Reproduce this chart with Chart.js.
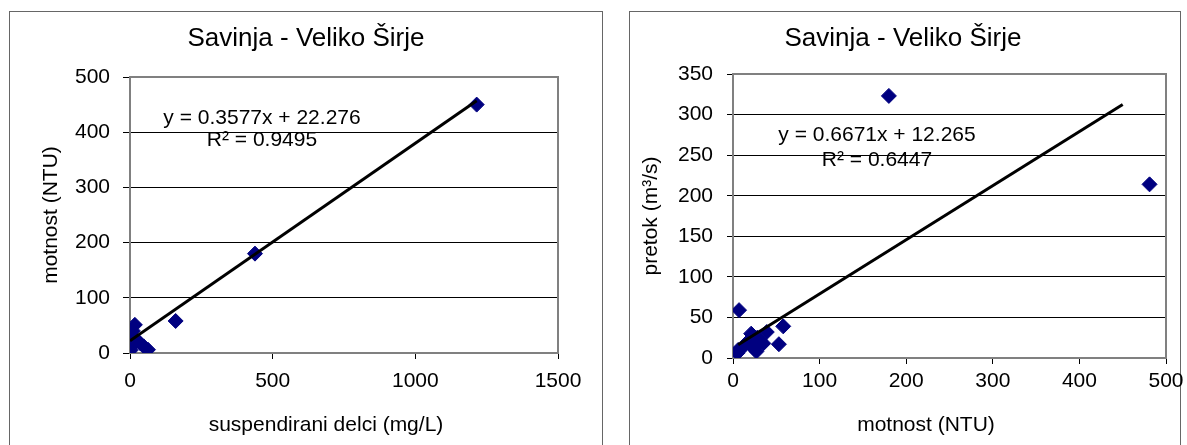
<!DOCTYPE html>
<html>
<head>
<meta charset="utf-8">
<title>Savinja - Veliko Širje</title>
<script src="https://cdn.jsdelivr.net/npm/chart.js@4.4.1/dist/chart.umd.min.js"></script>
<style>
  html, body { margin: 0; padding: 0; background: #fff; overflow: hidden; }
  .frame { position: absolute; border: 1px solid #666; box-sizing: border-box; }
  canvas { position: absolute; }
</style>
</head>
<body>
<div class="frame" style="left:9px;top:11px;width:594px;height:450px"></div>
<div class="frame" style="left:629px;top:11px;width:552px;height:450px"></div>
<canvas id="sediment" width="592" height="433" style="left:10px;top:12px"></canvas>
<canvas id="flow" width="557" height="433" style="left:630px;top:12px"></canvas>

<script>
// suspendirani delci (mg/L) vs motnost (NTU)
const sedimentX = [1215, 438, 160, 17, 10, 5, 2, 1, 3, 2, 12, 22, 35, 48, 63];
const sedimentY = [450, 180, 58, 51, 40, 32, 25, 18, 11, 5, 28, 24, 18, 12, 6];
const sedimentTrendX = [0, 1215];
const sedimentSlope = 0.3577;
const sedimentIntercept = 22.276;
const sedimentR2 = 0.9495;
const sedimentTicksX = [0, 500, 1000, 1500];
const sedimentTicksY = [0, 100, 200, 300, 400, 500];

// motnost (NTU) vs pretok (m3/s)
const flowX = [481, 180, 7, 58, 53, 6, 5, 12, 21, 24, 27, 31, 35, 39, 17, 28];
const flowY = [214, 323, 59, 39, 17, 10, 6, 14, 30, 12, 8, 22, 18, 32, 20, 25];
const flowTrendX = [6, 450];
const flowSlope = 0.6671;
const flowIntercept = 12.265;
const flowR2 = 0.6447;
const flowTicksX = [0, 100, 200, 300, 400, 500];
const flowTicksY = [0, 50, 100, 150, 200, 250, 300, 350];

const FONT = '"Liberation Sans", Arial, Helvetica, sans-serif';
Chart.defaults.font.family = FONT;
Chart.defaults.color = '#000';

// grey border round the plot area, under the markers
const plotFrame = {
  id: 'plotFrame',
  beforeDatasetsDraw(chart) {
    const { ctx, chartArea: a } = chart;
    ctx.save();
    ctx.strokeStyle = '#808080';
    ctx.lineWidth = 2;
    ctx.strokeRect(a.left, a.top, a.right - a.left, a.bottom - a.top);
    ctx.restore();
  }
};

// free text: chart title, x axis caption, trendline equation
const notes = {
  id: 'notes',
  afterDraw(chart, args, opts) {
    const ctx = chart.ctx;
    ctx.save();
    ctx.fillStyle = '#000';
    ctx.textAlign = 'center';
    ctx.textBaseline = 'middle';
    (opts.items || []).forEach(it => {
      ctx.font = it.size + 'px ' + FONT;
      ctx.fillText(it.text, it.x, it.y);
    });
    ctx.restore();
  }
};

function points(xs, ys) {
  return xs.map((x, i) => ({ x: x, y: ys[i] }));
}

// straight trendline y = slope * x + intercept over the given x span
function trend(span, slope, intercept) {
  return span.map(x => ({ x: x, y: slope * x + intercept }));
}

function makeChart(id, cfg) {
  const xt = cfg.ticksX, yt = cfg.ticksY;
  return new Chart(document.getElementById(id), {
    type: 'scatter',
    data: {
      datasets: [
        {
          data: trend(cfg.trendX, cfg.slope, cfg.intercept),
          showLine: true,
          borderColor: '#000',
          borderWidth: 3,
          pointRadius: 0,
          order: 0
        },
        {
          data: points(cfg.xs, cfg.ys),
          pointStyle: 'rectRot',
          pointRadius: 7.5,
          backgroundColor: '#000080',
          borderColor: '#000080',
          borderWidth: 1,
          order: 1
        }
      ]
    },
    plugins: [plotFrame, notes],
    options: {
      responsive: false,
      animation: false,
      events: [],
      layout: { padding: cfg.padding },
      scales: {
        x: {
          type: 'linear',
          min: xt[0],
          max: xt[xt.length - 1],
          ticks: {
            stepSize: xt[1] - xt[0], padding: cfg.xPad, font: { size: 21 }, color: '#000',
            callback: v => String(v)
          },
          grid: { drawOnChartArea: false, drawTicks: true, tickLength: 6, tickColor: '#000' },
          border: { display: false },
          afterFit: s => { s.height = cfg.xHeight; s.paddingLeft = 0; s.paddingRight = 0; }
        },
        y: {
          type: 'linear',
          min: yt[0],
          max: yt[yt.length - 1],
          ticks: {
            stepSize: yt[1] - yt[0], padding: cfg.yPad, font: { size: 21 }, color: '#000',
            callback: v => String(v)
          },
          grid: { color: '#000', tickColor: '#000', tickLength: cfg.yTick, lineWidth: 1 },
          border: { display: false },
          title: {
            display: true,
            text: cfg.yTitle,
            font: { size: 21 },
            color: '#000',
            padding: { top: cfg.yTitlePad, bottom: 0 }
          },
          afterFit: s => { s.width = cfg.yWidth; s.paddingTop = 0; s.paddingBottom = 0; }
        }
      },
      plugins: {
        legend: { display: false },
        tooltip: { enabled: false },
        notes: { items: cfg.notes }
      }
    }
  });
}

makeChart('sediment', {
  xs: sedimentX, ys: sedimentY, trendX: sedimentTrendX,
  slope: sedimentSlope, intercept: sedimentIntercept,
  ticksX: sedimentTicksX, ticksY: sedimentTicksY,
  padding: { top: 65, right: 44, bottom: 0, left: 0 },
  xHeight: 92, yWidth: 120, xPad: 10, yPad: 13, yTick: 7, yTitlePad: 29,
  yTitle: 'motnost (NTU)',
  notes: [
    { text: 'Savinja - Veliko Širje', x: 296, y: 27, size: 26 },
    { text: 'suspendirani delci (mg/L)', x: 316, y: 413, size: 21 },
    { text: 'y = ' + sedimentSlope + 'x + ' + sedimentIntercept, x: 252, y: 106, size: 21 },
    { text: 'R² = ' + sedimentR2, x: 252, y: 128, size: 21 }
  ]
});

makeChart('flow', {
  xs: flowX, ys: flowY, trendX: flowTrendX,
  slope: flowSlope, intercept: flowIntercept,
  ticksX: flowTicksX, ticksY: flowTicksY,
  padding: { top: 62, right: 21, bottom: 0, left: 0 },
  xHeight: 87, yWidth: 103, xPad: 5, yPad: 14, yTick: 6, yTitlePad: 9,
  yTitle: 'pretok (m³/s)',
  notes: [
    { text: 'Savinja - Veliko Širje', x: 273, y: 27, size: 26 },
    { text: 'motnost (NTU)', x: 296, y: 413, size: 21 },
    { text: 'y = ' + flowSlope + 'x + ' + flowIntercept, x: 247, y: 123, size: 21 },
    { text: 'R² = ' + flowR2, x: 247, y: 148, size: 21 }
  ]
});
</script>
</body>
</html>
